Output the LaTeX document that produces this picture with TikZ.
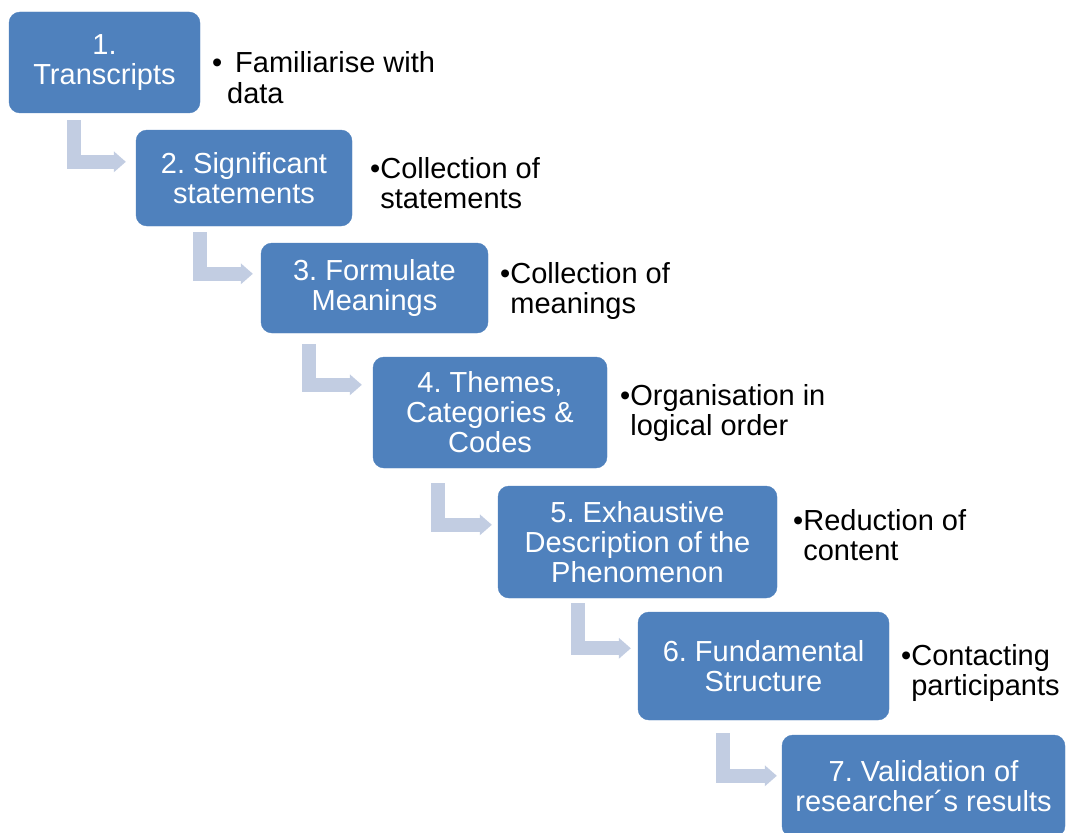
\documentclass[tikz,border=0pt]{standalone}
\usepackage{fontspec}
\setmainfont{Liberation Sans}
\usepackage{tikz}
\usetikzlibrary{shapes,arrows,arrows.meta}
\usetikzlibrary{calc}
\usetikzlibrary{positioning}
\frenchspacing

\definecolor{boxblue}{RGB}{79,129,189}
\definecolor{arrowgrey}{RGB}{194,205,226}

\tikzset{
  stepbox/.style={fill=boxblue, draw=boxblue, rounded corners=11pt, text=white,
    align=center, inner sep=0pt, font=\fontsize{29}{30}\selectfont},
  bullettext/.style={anchor=base west, inner sep=0pt, font=\fontsize{29}{30}\selectfont},
  bendarrow/.style={draw=arrowgrey, line width=14pt, line join=miter,
    -{Triangle[width=21pt,length=12pt,line width=0pt]}}
}

\begin{document}
\begin{tikzpicture}[x=1pt,y=-1pt]
			\clip (0,0) rectangle (1067,832);
			% steps
			\node[stepbox, minimum width=191, minimum height=101] (b1) at (104.5,62.5) {1.\\Transcripts};
			\node[stepbox, minimum width=216, minimum height=96] (b2) at (244,178) {2. Significant\\statements};
			\node[stepbox, minimum width=227, minimum height=90] (b3) at (374.5,288) {3. Formulate\\Meanings};
			\node[stepbox, minimum width=234, minimum height=111] (b4) at (490,412.5) {4. Themes,\\Categories \&\\Codes};
			\node[stepbox, minimum width=279, minimum height=112] (b5) at (637.5,542) {5. Exhaustive\\Description of the\\Phenomenon};
			\node[stepbox, minimum width=251, minimum height=108] (b6) at (763.5,666) {6. Fundamental\\Structure};
			\node[stepbox, minimum width=283, minimum height=102] (b7) at (923.5,786) {7. Validation of\\researcher´s results};

			% bullet notes
			\node[bullettext] (n1) at (212,73) {\begin{tabular}[t]{@{}l@{}l@{}}\textbullet & \ \,Familiarise with\\ & \,data\end{tabular}};
			\node[bullettext] (n2) at (370,178) {\begin{tabular}[t]{@{}l@{}l@{}}\textbullet & Collection of\\ & statements\end{tabular}};
			\node[bullettext] (n3) at (500,283) {\begin{tabular}[t]{@{}l@{}l@{}}\textbullet & Collection of\\ & meanings\end{tabular}};
			\node[bullettext] (n4) at (620,405) {\begin{tabular}[t]{@{}l@{}l@{}}\textbullet & Organisation in\\ & logical order\end{tabular}};
			\node[bullettext] (n5) at (793,530) {\begin{tabular}[t]{@{}l@{}l@{}}\textbullet & Reduction of\\ & content\end{tabular}};
			\node[bullettext] (n6) at (901,665) {\begin{tabular}[t]{@{}l@{}l@{}}\textbullet & Contacting\\ & participants\end{tabular}};

			% bent arrows
			\draw[bendarrow] ($(b1.south west)+(65,7)$) |- ($(b2.north west)+(-10,32)$);
			\draw[bendarrow] ($(b2.south west)+(64,6)$) |- ($(b3.north west)+(-8,31)$);
			\draw[bendarrow] ($(b3.south west)+(48,11)$) |- ($(b4.north west)+(-11,28)$);
			\draw[bendarrow] ($(b4.south west)+(65.5,15)$) |- ($(b5.north west)+(-6,39)$);
			\draw[bendarrow] ($(b5.south west)+(80.5,5)$) |- ($(b6.north west)+(-7,36.5)$);
			\draw[bendarrow] ($(b6.south west)+(85.5,13)$) |- ($(b7.north west)+(-5,41)$);
\end{tikzpicture}
\end{document}
